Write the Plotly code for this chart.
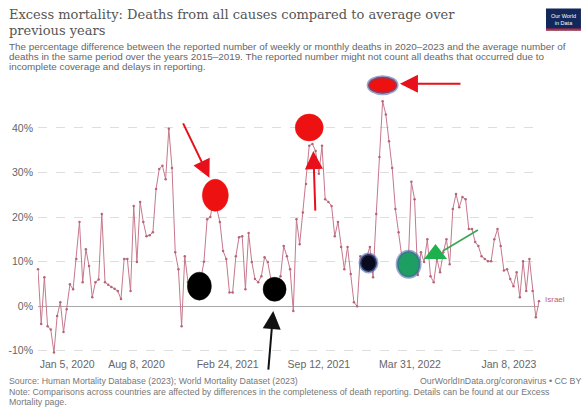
import plotly.graph_objects as go
import pandas as pd

# ---------------- data ----------------
country = "Israel"
week_start = "2020-01-05"
week_end = "2023-01-08"
excess_pct = [
    8.3, -4.0, 6.5, -4.5, -5.2, -10.4, -2.2, 0.9, -5.8, -0.7,
    4.9, 3.8, 10.6, 18.9, 5.4, 12.8, 9.0, 2.0, 5.4, 6.0,
    20.7, 5.4, 4.8, 4.3, 3.9, 3.4, 1.6, 10.6, 10.6, 3.4,
    22.5, 9.9, 23.4, 18.9, 15.7, 15.9, 16.6, 26.3, 30.8, 31.5,
    28.5, 39.8, 31.0, 12.1, 8.3, -4.5, 11.2, 5.4, 5.0, 4.0,
    5.0, 6.0, 10.0, 19.5, 20.0, 24.0, 22.0, 18.9, 12.4, 10.6,
    3.1, 3.1, 11.2, 15.5, 15.7, 3.8, 16.4, 9.9, 6.1, 5.4,
    6.7, 11.0, 9.9, 6.0, 4.0, 5.0, 6.7, 13.5, 11.2, 8.3,
    -1.1, 19.5, 13.9, 21.0, 27.4, 36.0, 36.4, 34.8, 29.7, 36.0,
    24.0, 23.4, 22.5, 15.7, 18.9, 13.3, 8.3, 13.3, 7.2, 0.9,
    0.0, 11.2, 10.0, 11.0, 13.3, 6.5, 20.7, 33.5, 46.0, 43.0,
    37.0, 31.0, 21.8, 16.6, 11.2, 9.0, 9.0, 27.9, 24.0, 7.0,
    12.1, 9.9, 15.0, 6.7, 5.4, 10.6, 7.6, 12.1, 15.0, 9.4,
    21.8, 25.2, 22.2, 24.5, 24.0, 17.3, 17.3, 14.4, 13.5, 11.2,
    10.6, 10.1, 10.1, 15.0, 17.3, 13.5, 8.0, 8.3, 6.1, 4.5,
    7.6, 2.0, 10.1, 3.4, 10.6, 3.4, -2.5, 1.1,
]
dates = pd.date_range(week_start, week_end, freq="7D")

y_tick_vals = [-10, 0, 10, 20, 30, 40]
y_tick_text = ["-10%", "0%", "10%", "20%", "30%", "40%"]
x_tick_dates = ["2020-03-09", "2020-08-08", "2021-02-24", "2021-09-12", "2022-03-31", "2022-11-03"]
x_tick_text = ["Jan 5, 2020", "Aug 8, 2020", "Feb 24, 2021", "Sep 12, 2021", "Mar 31, 2022", "Jan 8, 2023"]

# hand-drawn highlight marks added on the screenshot (date, value)
blob_dates = ["2021-01-28", "2020-12-24", "2021-06-07", "2021-08-22", "2022-01-30", "2021-12-30", "2022-03-28"]
blob_values = [24.9, 4.5, 3.8, 40.1, 49.6, 9.7, 9.4]
blob_colors = ["#ee1111", "#000000", "#000000", "#ee1111", "#ee1111", "#0a0a1e", "#1e9e63"]
blob_glow = [False, False, False, False, True, True, True]
blob_w = [26, 24, 23, 28, 29, 17, 23]
blob_h = [32, 28, 24, 27, 17, 18, 26]

arrow_tip_dates = ["2021-01-15", "2021-08-31", "2022-03-09", "2021-06-04"]
arrow_tip_values = [28.8, 34.8, 49.9, -1.1]
arrow_dx = [-27, 2, 62, -5]
arrow_dy = [-56, 61, 0, 60]
arrow_colors = ["#e8101a", "#e8101a", "#e8101a", "#111111"]

green_tri_date, green_tri_value = "2022-05-26", 11.7
green_line_dates = ["2022-08-27", "2022-06-11"]
green_line_values = [17.1, 12.4]

# ---------------- layout geometry ----------------
W, H = 587, 416
ML, MR, MT, MB = 37.5, 48, 70.4, 63
PW, PH = W - ML - MR, H - MT - MB


def paper(x, y):
    return (x - ML) / PW, (H - MB - y) / PH


SANS = "Liberation Sans, Arial, sans-serif"
SERIF = "DejaVu Serif, Liberation Serif, serif"
LINE_COLOR = "#c6788c"

fig = go.Figure()
fig.add_trace(go.Scatter(
    x=dates, y=excess_pct, mode="lines+markers", name=country,
    line=dict(color=LINE_COLOR, width=1),
    marker=dict(color="#b7647a", size=2.5),
    cliponaxis=False, showlegend=False,
))

# green triangle
fig.add_trace(go.Scatter(
    x=[green_tri_date], y=[green_tri_value], mode="markers",
    marker=dict(symbol="triangle-up", size=20, color="#1fb04e"),
    cliponaxis=False, showlegend=False,
))

shapes = []
for d, v, c, g, w, h in zip(blob_dates, blob_values, blob_colors, blob_glow, blob_w, blob_h):
    shapes.append(dict(
        type="circle", xref="x", yref="y", xsizemode="pixel", ysizemode="pixel",
        xanchor=d, yanchor=v, x0=-w / 2, x1=w / 2, y0=-h / 2, y1=h / 2,
        fillcolor=c,
        line=dict(color="rgba(70,95,165,0.55)" if g else c, width=3 if g else 0.5),
        layer="above",
    ))
shapes.append(dict(
    type="line", xref="x", yref="y",
    x0=green_line_dates[0], y0=green_line_values[0],
    x1=green_line_dates[1], y1=green_line_values[1],
    line=dict(color="#3aa655", width=1.6), layer="above",
))
# logo
lx0, ly0 = paper(546, 9)
lx1, ly1 = paper(581, 31)
shapes.append(dict(type="rect", xref="paper", yref="paper", x0=lx0, x1=lx1, y0=ly1, y1=ly0,
                   fillcolor="#12275a", line=dict(width=0)))
sx0, sy0 = paper(546, 29)
shapes.append(dict(type="rect", xref="paper", yref="paper", x0=lx0, x1=lx1, y0=ly1, y1=sy0,
                   fillcolor="#c8283a", line=dict(width=0)))

annotations = []
for d, v, dx, dy, c in zip(arrow_tip_dates, arrow_tip_values, arrow_dx, arrow_dy, arrow_colors):
    annotations.append(dict(
        x=d, y=v, xref="x", yref="y", ax=dx, ay=dy, text="",
        showarrow=True, arrowhead=2, arrowsize=1.8, arrowwidth=2, arrowcolor=c,
        standoff=0,
    ))


def text_at(px, py, txt, size, color, font=SANS, xanchor="left"):
    x, y = paper(px, py)
    annotations.append(dict(
        x=x, y=y, xref="paper", yref="paper", text=txt, showarrow=False,
        xanchor=xanchor, yanchor="middle", align=xanchor,
        font=dict(family=font, size=size, color=color),
    ))


text_at(6, 15, "Excess mortality: Deaths from all causes compared to average over", 13.0, "#555555", SERIF)
text_at(6, 31, "previous years", 13.0, "#555555", SERIF)
text_at(6, 47, "The percentage difference between the reported number of weekly or monthly deaths in 2020–2023 and the average number of", 9.9, "#666666")
text_at(6, 57, "deaths in the same period over the years 2015–2019. The reported number might not count all deaths that occurred due to", 9.9, "#666666")
text_at(6, 67, "incomplete coverage and delays in reporting.", 9.9, "#666666")
text_at(563.5, 19.5, "Our World<br>in Data", 5.5, "#ffffff", xanchor="center")
text_at(6, 381, "Source: Human Mortality Database (2023); World Mortality Dataset (2023)", 8.8, "#777777")
text_at(583, 381, "OurWorldInData.org/coronavirus • CC BY", 8.8, "#777777", xanchor="right")
text_at(6, 392, "Note: Comparisons across countries are affected by differences in the completeness of death reporting. Details can be found at our Excess", 8.8, "#777777")
text_at(6, 402, "Mortality page.", 8.8, "#777777")

annotations.append(dict(
    x=dates[-1], y=excess_pct[-1], xref="x", yref="y", text=country, showarrow=False,
    xanchor="left", yanchor="middle", xshift=4, yshift=2,
    font=dict(family=SANS, size=8, color="#c0607a"),
))

fig.update_layout(
    width=W, height=H,
    margin=dict(l=ML, r=MR, t=MT, b=MB, pad=0, autoexpand=False),
    paper_bgcolor="white", plot_bgcolor="white",
    shapes=shapes, annotations=annotations,
    xaxis=dict(
        type="date", range=[week_start, week_end],
        tickvals=x_tick_dates, ticktext=x_tick_text,
        showgrid=False, zeroline=False, showline=False, ticks="",
        tickfont=dict(family=SANS, size=10.5, color="#666666"),
        ticklabelstandoff=3,
    ),
    yaxis=dict(
        range=[-10.5, 53], tickvals=y_tick_vals, ticktext=y_tick_text,
        showgrid=True, gridcolor="#dedede", griddash="dash", gridwidth=1,
        zeroline=True, zerolinecolor="#a8a8a8", zerolinewidth=1,
        showline=False, ticks="",
        tickfont=dict(family=SANS, size=10.5, color="#666666"),
        ticklabelstandoff=4,
    ),
)

fig.write_html("out.html", config={"displayModeBar": False},
               post_script="document.body.style.margin='0px';")
